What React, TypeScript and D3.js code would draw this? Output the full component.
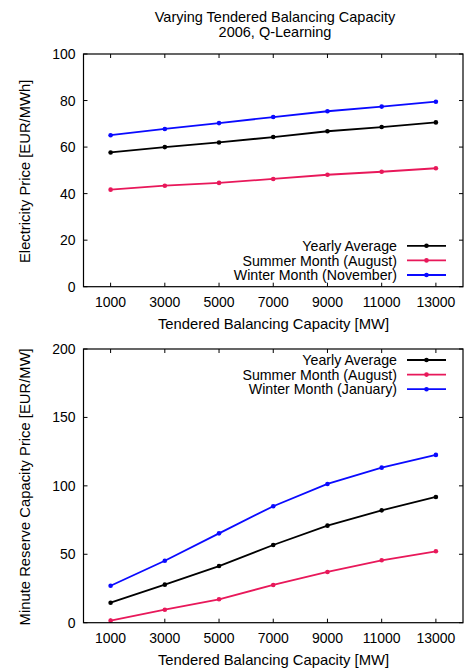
import React from "react";
import * as d3 from "d3";

const capacities = [1000, 3000, 5000, 7000, 9000, 11000, 13000];
const xTicks = [1000, 3000, 5000, 7000, 9000, 11000, 13000];

const priceYearly = [57.7, 60.0, 62.0, 64.3, 66.8, 68.6, 70.6];
const priceSummer = [41.7, 43.4, 44.6, 46.3, 48.1, 49.4, 50.9];
const priceWinter = [65.1, 67.8, 70.3, 72.9, 75.4, 77.4, 79.5];

const reserveYearly = [14.6, 27.8, 41.4, 56.8, 70.9, 82.1, 91.9];
const reserveSummer = [1.5, 9.5, 17.1, 27.6, 37.1, 45.6, 52.2];
const reserveWinter = [27.0, 45.3, 65.3, 85.1, 101.4, 113.3, 122.6];

const priceTicks = [0, 20, 40, 60, 80, 100];
const reserveTicks = [0, 50, 100, 150, 200];

const topLegend = ["Yearly Average", "Summer Month (August)", "Winter Month (November)"];
const bottomLegend = ["Yearly Average", "Summer Month (August)", "Winter Month (January)"];

const COLORS = ["#000000", "#e8185a", "#0a0aff"];
const FONT = "Liberation Sans, Arial, Helvetica, sans-serif";

type PanelProps = {
  top: number;
  bottom: number;
  yMax: number;
  yTicks: number[];
  series: number[][];
  legend: string[];
  legendY: number;
  yLabel: string;
};

const LEFT = 83.5;
const RIGHT = 463;

function Panel({ top, bottom, yMax, yTicks, series, legend, legendY, yLabel }: PanelProps) {
  const x = d3.scaleLinear().domain([0, 14000]).range([LEFT, RIGHT]);
  const y = d3.scaleLinear().domain([0, yMax]).range([bottom, top]);
  const line = d3
    .line<number>()
    .x((_, i) => x(capacities[i]))
    .y((d) => y(d));
  const tl = 4;
  return (
    <g>
      {yTicks.map((t) => (
        <g key={"y" + t}>
          <line x1={LEFT} x2={LEFT + tl} y1={y(t)} y2={y(t)} stroke="#000" strokeWidth={1} />
          <line x1={RIGHT} x2={RIGHT - tl} y1={y(t)} y2={y(t)} stroke="#000" strokeWidth={1} />
          <text x={LEFT - 8} y={y(t)} dy="0.36em" textAnchor="end" fontSize={14} fontFamily={FONT} fill="#000">
            {t}
          </text>
        </g>
      ))}
      {xTicks.map((t) => (
        <g key={"x" + t}>
          <line x1={x(t)} x2={x(t)} y1={bottom} y2={bottom - tl} stroke="#000" strokeWidth={1} />
          <line x1={x(t)} x2={x(t)} y1={top} y2={top + tl} stroke="#000" strokeWidth={1} />
          <text x={x(t)} y={bottom + 20.5} textAnchor="middle" fontSize={14} fontFamily={FONT} fill="#000">
            {t}
          </text>
        </g>
      ))}
      <text
        x={273.5}
        y={bottom + 42}
        textAnchor="middle"
        fontSize={14.8}
        fontFamily={FONT}
        fill="#000"
      >
        Tendered Balancing Capacity [MW]
      </text>
      <text
        transform={`translate(29.5,${(top + bottom) / 2 + 1}) rotate(-90)`}
        textAnchor="middle"
        fontSize={14.8}
        fontFamily={FONT}
        fill="#000"
      >
        {yLabel}
      </text>
      {series.map((s, si) => (
        <g key={"s" + si}>
          <path d={line(s) || ""} fill="none" stroke={COLORS[si]} strokeWidth={1.8} />
          {s.map((v, i) => (
            <circle key={i} cx={x(capacities[i])} cy={y(v)} r={2.3} fill={COLORS[si]} />
          ))}
        </g>
      ))}
      {legend.map((name, i) => {
        const ly = legendY + i * 14.6;
        return (
          <g key={"l" + i}>
            <text x={397} y={ly} dy="0.36em" textAnchor="end" fontSize={14.2} fontFamily={FONT} fill="#000">
              {name}
            </text>
            <line x1={407} x2={446} y1={ly} y2={ly} stroke={COLORS[i]} strokeWidth={1.8} />
            <circle cx={426.5} cy={ly} r={2.3} fill={COLORS[i]} />
          </g>
        );
      })}
      <rect x={LEFT} y={top} width={RIGHT - LEFT} height={bottom - top} fill="none" stroke="#000" strokeWidth={1.2} />
    </g>
  );
}

export default function App() {
  return (
    <svg
      width={466}
      height={668}
      style={{ position: "absolute", left: 0, top: 0, background: "#fff" }}
      xmlns="http://www.w3.org/2000/svg"
    >
      <rect x={0} y={0} width={466} height={668} fill="#fff" />
      <text x={275} y={22} textAnchor="middle" fontSize={14.5} fontFamily={FONT} fill="#000">
        Varying Tendered Balancing Capacity
      </text>
      <text x={275} y={37} textAnchor="middle" fontSize={14.5} fontFamily={FONT} fill="#000">
        2006, Q-Learning
      </text>
      <Panel
        top={54}
        bottom={286.7}
        yMax={100}
        yTicks={priceTicks}
        series={[priceYearly, priceSummer, priceWinter]}
        legend={topLegend}
        legendY={245.8}
        yLabel="Electricity Price [EUR/MWh]"
      />
      <Panel
        top={349}
        bottom={622.7}
        yMax={200}
        yTicks={reserveTicks}
        series={[reserveYearly, reserveSummer, reserveWinter]}
        legend={bottomLegend}
        legendY={360}
        yLabel="Minute Reserve Capacity Price [EUR/MW]"
      />
    </svg>
  );
}
